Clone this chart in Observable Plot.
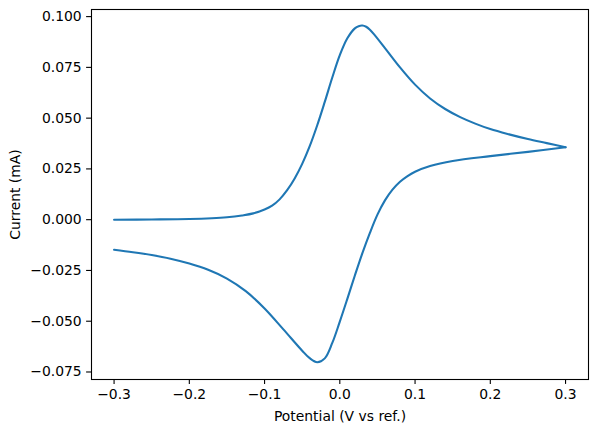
<!DOCTYPE html>
<html>
<head>
<meta charset="utf-8">
<script src="https://cdn.jsdelivr.net/npm/d3@7"></script>
<script src="https://cdn.jsdelivr.net/npm/@observablehq/plot@0.6"></script>
<style>
  html, body { margin: 0; padding: 0; background: #fff; }
  #chart svg { display: block; }
</style>
</head>
<body>
<div id="chart"></div>
<script>
// Forward (anodic) scan branch, listed by increasing potential
const forwardPotential = [-0.300, -0.250, -0.200, -0.170, -0.150, -0.130, -0.115, -0.100, -0.090, -0.080, -0.070, -0.060, -0.050, -0.040, -0.030, -0.020, -0.010, 0.000, 0.010, 0.020, 0.025, 0.030, 0.035, 0.040, 0.045, 0.060, 0.080, 0.100, 0.120, 0.140, 0.160, 0.180, 0.200, 0.225, 0.250, 0.275, 0.300];
const forwardCurrent   = [0.0000, 0.0001, 0.0003, 0.0007, 0.0012, 0.0021, 0.0031, 0.0050, 0.0069, 0.0100, 0.0145, 0.0203, 0.0275, 0.0362, 0.0465, 0.0580, 0.0700, 0.0810, 0.0893, 0.0942, 0.0953, 0.0956, 0.0950, 0.0935, 0.0915, 0.0845, 0.0750, 0.0665, 0.0597, 0.0545, 0.0505, 0.0473, 0.0446, 0.0420, 0.0397, 0.0377, 0.0357];
// Reverse (cathodic) scan branch, listed by increasing potential
const reversePotential = [-0.300, -0.275, -0.250, -0.225, -0.200, -0.175, -0.150, -0.125, -0.100, -0.075, -0.050, -0.040, -0.030, -0.020, -0.010, 0.000, 0.010, 0.020, 0.030, 0.040, 0.050, 0.060, 0.070, 0.080, 0.090, 0.100, 0.120, 0.150, 0.200, 0.250, 0.300];
const reverseCurrent   = [-0.0148, -0.0160, -0.0174, -0.0192, -0.0216, -0.0247, -0.0290, -0.0352, -0.0437, -0.0540, -0.0645, -0.0682, -0.0702, -0.0683, -0.0607, -0.0502, -0.0390, -0.0275, -0.0165, -0.0065, 0.0025, 0.0095, 0.0148, 0.0187, 0.0215, 0.0236, 0.0264, 0.0289, 0.0313, 0.0334, 0.0357];

const xTicks = [-0.3, -0.2, -0.1, 0.0, 0.1, 0.2, 0.3];
const yTicks = [-0.075, -0.050, -0.025, 0.000, 0.025, 0.050, 0.075, 0.100];

const data = [
  ...forwardPotential.map((v, i) => ({v, c: forwardCurrent[i], s: "forward"})),
  ...reversePotential.map((v, i) => ({v, c: reverseCurrent[i], s: "reverse"}))
];

const fs = 13.9;
const chart = Plot.plot({
  width: 596,
  height: 432,
  marginLeft: 91,
  marginRight: 8,
  marginTop: 9,
  marginBottom: 53,
  style: {fontFamily: "DejaVu Sans", fontSize: fs + "px", color: "#000", background: "#fff"},
  x: {domain: [-0.33, 0.3305]},
  y: {domain: [-0.0787, 0.1035]},
  marks: [
    Plot.axisX({ticks: xTicks, tickFormat: d3.format(".1f"), tickSize: 4.9, tickPadding: 4.9, strokeWidth: 1.1,
      label: "Potential (V vs ref.)", labelAnchor: "center", labelArrow: "none", labelOffset: 41, fontSize: fs}),
    Plot.axisY({ticks: yTicks, tickFormat: d3.format(".3f"), tickSize: 4.9, tickPadding: 4.9, strokeWidth: 1.1,
      label: "Current (mA)", labelAnchor: "center", labelArrow: "none", labelOffset: 81, fontSize: fs}),
    Plot.line(data, {x: "v", y: "c", z: "s", stroke: "#1f77b4", strokeWidth: 2.1, curve: "catmull-rom"}),
    Plot.frame({stroke: "#000", strokeWidth: 1.1})
  ]
});
document.getElementById("chart").append(chart);
</script>
</body>
</html>
